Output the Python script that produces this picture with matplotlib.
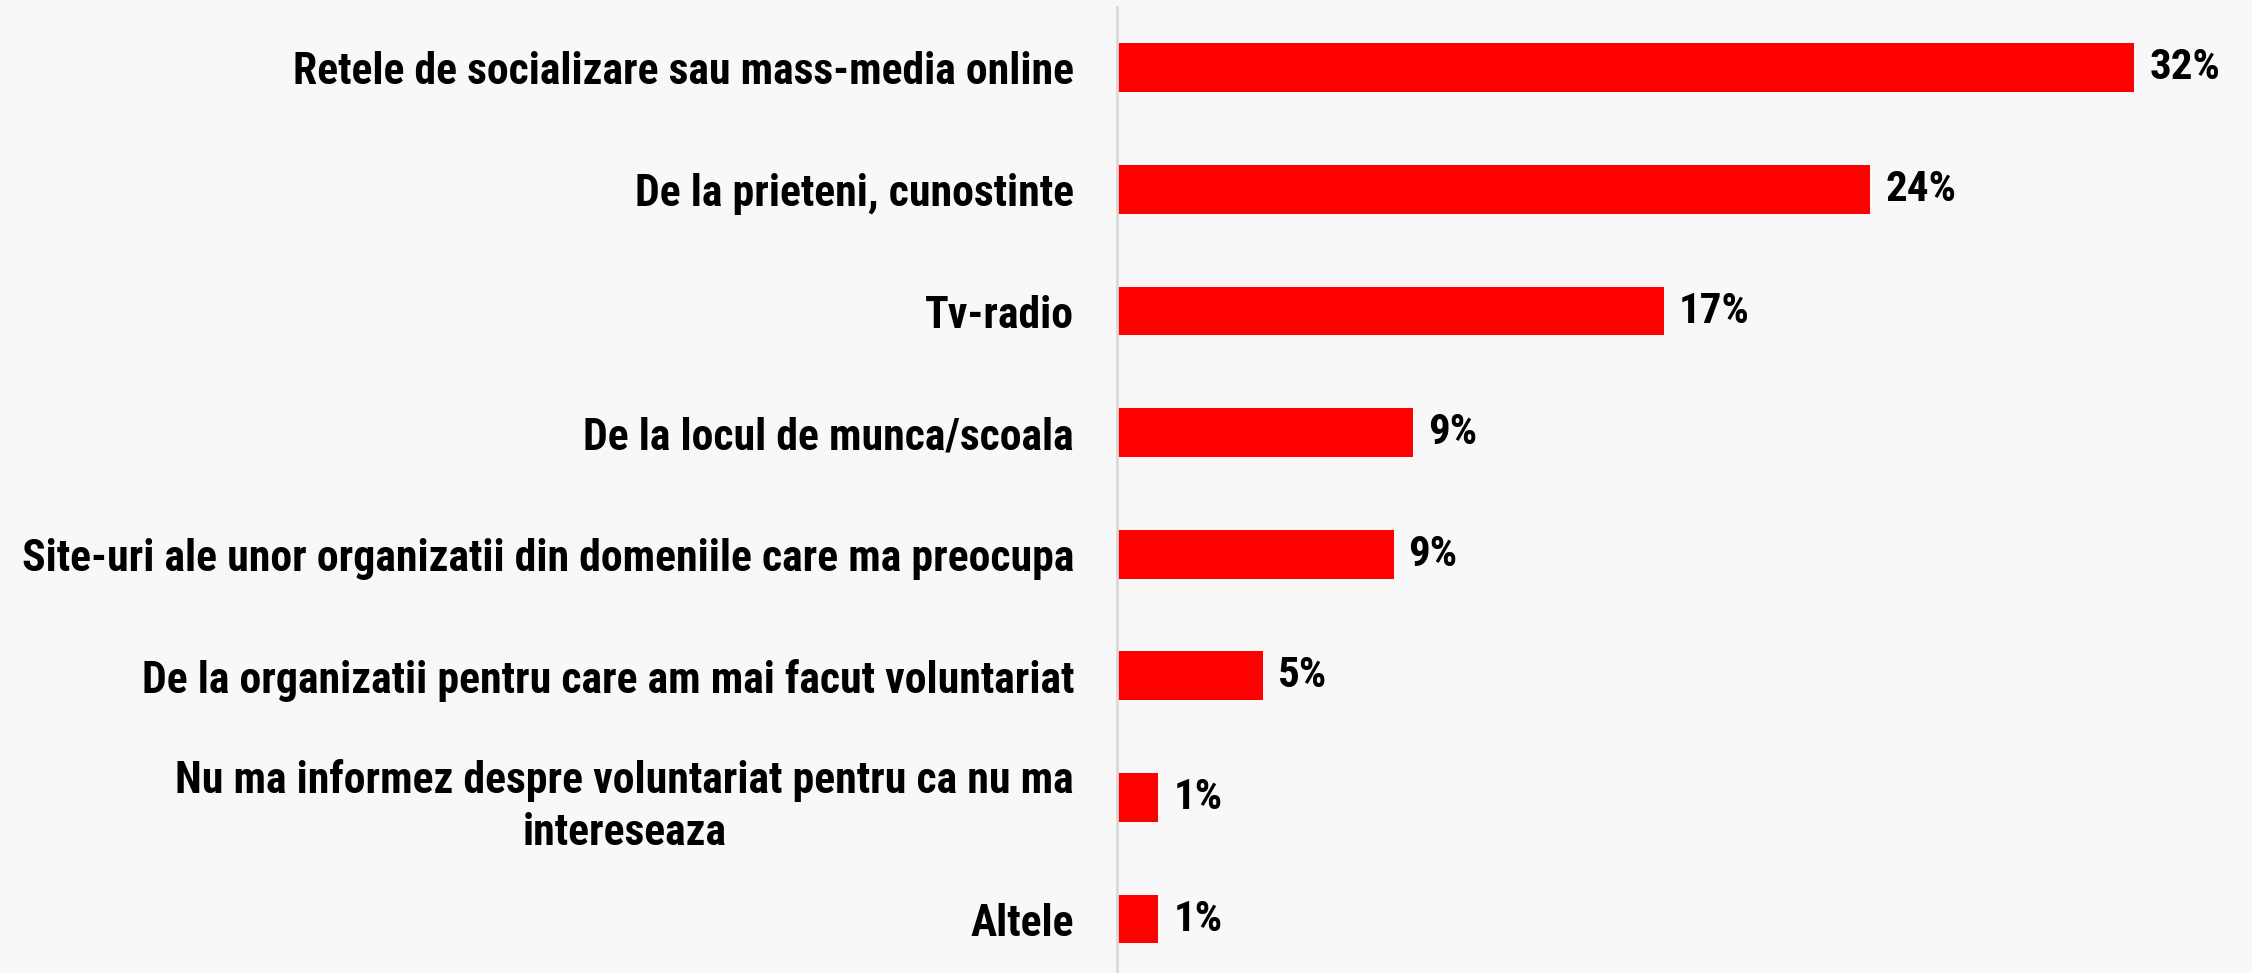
import matplotlib
matplotlib.use("Agg")
import matplotlib.pyplot as plt
from matplotlib import font_manager

categories = [
    "Retele de socializare sau mass-media online",
    "De la prieteni, cunostinte",
    "Tv-radio",
    "De la locul de munca/scoala",
    "Site-uri ale unor organizatii din domeniile care ma preocupa",
    "De la organizatii pentru care am mai facut voluntariat",
    "Nu ma informez despre voluntariat pentru ca nu ma\nintereseaza",
    "Altele",
]
values = [32.0, 23.7, 17.2, 9.3, 8.7, 4.6, 1.3, 1.3]
value_labels = ["32%", "24%", "17%", "9%", "9%", "5%", "1%", "1%"]

names = {f.name for f in font_manager.fontManager.ttflist}
font = "DejaVu Sans"
for cand in ["Liberation Sans Narrow", "Roboto Condensed", "Open Sans Condensed", "Liberation Sans"]:
    if cand in names:
        font = cand
        break
plt.rcParams["font.family"] = [font, "DejaVu Sans"]

bg = "#f8f8f8"
fig = plt.figure(figsize=(22.52, 9.73), dpi=100, facecolor=bg)
ax = fig.add_axes([1117 / 2252, 0, 1 - 1117 / 2252, 1 - 7 / 973])
ax.set_facecolor(bg)

ypos = list(range(len(categories)))
ax.barh(ypos, values, height=0.4, color="#ff0000")
ax.set_ylim(7.444, -0.5)
ax.set_xlim(0, 35.7)

for y, v, lab in zip(ypos, values, value_labels):
    ax.annotate(lab, (v, y), xytext=(15, 0), textcoords="offset pixels",
                ha="left", va="center", fontsize=31, fontweight="bold", color="black")

ax.set_yticks(ypos)
ax.set_yticklabels(categories, fontsize=31.5, fontweight="bold", color="black",
                   multialignment="center", linespacing=1.3)
ax.tick_params(axis="y", length=0, pad=31)
ax.set_xticks([])
for s in ["top", "right", "bottom"]:
    ax.spines[s].set_visible(False)
ax.spines["left"].set_color("#d9d9d9")
ax.spines["left"].set_linewidth(2)

fig.savefig("out.png", dpi=100, facecolor=bg)
